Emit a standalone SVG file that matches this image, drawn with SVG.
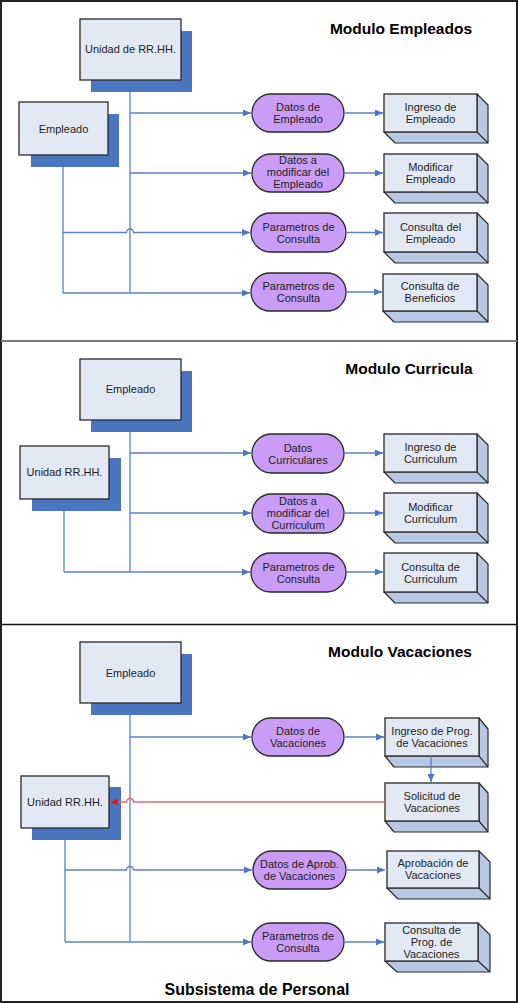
<svg xmlns="http://www.w3.org/2000/svg" width="519" height="1003" viewBox="0 0 519 1003">
<style>
text{font-family:"Liberation Sans",Arial,sans-serif;fill:#1e1e1e}
.t{font-size:11px;text-anchor:middle}
.title{font-size:15.5px;font-weight:bold;text-anchor:middle;fill:#000}
.shadow{fill:#4a76c0}
.ent{fill:#e2e9f4;stroke:#2a2a2a;stroke-width:1.3}
.pill{fill:#c99cf6;stroke:#2a2a2a;stroke-width:1.3}
.side{fill:#b7c8e4;stroke:#2a2a2a;stroke-width:1.2;stroke-linejoin:round}
.front{fill:#e2e9f4;stroke:#2a2a2a;stroke-width:1.3}
.c{fill:none;stroke:#5b82c2;stroke-width:1.3}
.ca{fill:none;stroke:#5b82c2;stroke-width:1.3;marker-end:url(#ab)}
.red{fill:none;stroke:#e36a6a;stroke-width:1.5;marker-end:url(#ar)}
</style>
<defs>
<marker id="ab" markerUnits="userSpaceOnUse" markerWidth="8" markerHeight="7" refX="8" refY="3.5" orient="auto"><path d="M0,0 L8,3.5 L0,7 z" fill="#4f78bc"/></marker>
<marker id="ar" markerUnits="userSpaceOnUse" markerWidth="8" markerHeight="7" refX="8" refY="3.5" orient="auto"><path d="M0,0 L8,3.5 L0,7 z" fill="#d42020"/></marker>
</defs>
<rect x="0" y="0" width="519" height="1003" fill="#fff"/>
<!-- frames -->
<rect x="1" y="1" width="516" height="1001" fill="none" stroke="#222" stroke-width="2"/>
<line x1="1" y1="341" x2="517" y2="341" stroke="#7a7a7a" stroke-width="2"/>
<line x1="1" y1="624.5" x2="517" y2="624.5" stroke="#111" stroke-width="1.5"/>

<text class="title" x="401" y="34">Modulo Empleados</text>
<text class="title" x="409" y="374">Modulo Curricula</text>
<text class="title" x="400" y="657">Modulo Vacaciones</text>
<text class="title" x="257" y="995" style="font-size:16px">Subsistema de Personal</text>

<!-- Section 1 nodes -->
<g id="s1-unidad">
<rect class="shadow" x="91" y="31" width="101" height="61"/>
<rect class="ent" x="80" y="19" width="101" height="61"/>
<text class="t" x="130.5" y="53">Unidad de RR.HH.</text>
</g>
<g id="s1-empleado">
<rect class="shadow" x="31" y="114" width="88" height="53"/>
<rect class="ent" x="19" y="102" width="89" height="53"/>
<text class="t" x="63.5" y="133">Empleado</text>
</g>
<g id="s1-p1">
<rect class="pill" x="252" y="94" width="92" height="38" rx="19"/>
<text class="t" x="298" y="111">Datos de</text>
<text class="t" x="298" y="123">Empleado</text>
</g>
<g id="s1-p2">
<rect class="pill" x="252" y="154" width="92" height="38" rx="19"/>
<text class="t" x="298" y="164">Datos a</text>
<text class="t" x="298" y="176">modificar del</text>
<text class="t" x="298" y="188">Empleado</text>
</g>
<g id="s1-p3">
<rect class="pill" x="251" y="213" width="95" height="39" rx="19.5"/>
<text class="t" x="298.5" y="230.5">Parametros de</text>
<text class="t" x="298.5" y="242.5">Consulta</text>
</g>
<g id="s1-p4">
<rect class="pill" x="251" y="273" width="95" height="38" rx="19"/>
<text class="t" x="298.5" y="290">Parametros de</text>
<text class="t" x="298.5" y="302">Consulta</text>
</g>
<g id="s1-b1">
<polygon class="side" points="477,94 488,105 488,143 395,143 384,132 477,132"/>
<line x1="477" y1="132" x2="488" y2="143" stroke="#2a2a2a" stroke-width="1.2"/>
<rect class="front" x="384" y="94" width="93" height="38"/>
<text class="t" x="430.5" y="111">Ingreso de</text>
<text class="t" x="430.5" y="123">Empleado</text>
</g>
<g id="s1-b2">
<polygon class="side" points="477,154 488,165 488,203 395,203 384,192 477,192"/>
<line x1="477" y1="192" x2="488" y2="203" stroke="#2a2a2a" stroke-width="1.2"/>
<rect class="front" x="384" y="154" width="93" height="38"/>
<text class="t" x="430.5" y="171">Modificar</text>
<text class="t" x="430.5" y="183">Empleado</text>
</g>
<g id="s1-b3">
<polygon class="side" points="477,213 488,224 488,263 395,263 384,252 477,252"/>
<line x1="477" y1="252" x2="488" y2="263" stroke="#2a2a2a" stroke-width="1.2"/>
<rect class="front" x="384" y="213" width="93" height="39"/>
<text class="t" x="430.5" y="230.5">Consulta del</text>
<text class="t" x="430.5" y="242.5">Empleado</text>
</g>
<g id="s1-b4">
<polygon class="side" points="477,274 488,285 488,322 394,322 383,311 477,311"/>
<line x1="477" y1="311" x2="488" y2="322" stroke="#2a2a2a" stroke-width="1.2"/>
<rect class="front" x="383" y="274" width="94" height="37"/>
<text class="t" x="430" y="290">Consulta de</text>
<text class="t" x="430" y="302">Beneficios</text>
</g>

<!-- Section 2 nodes -->
<g id="s2-empleado">
<rect class="shadow" x="91" y="371" width="101" height="61"/>
<rect class="ent" x="80" y="359" width="101" height="61"/>
<text class="t" x="130.5" y="393">Empleado</text>
</g>
<g id="s2-unidad">
<rect class="shadow" x="32" y="458" width="89" height="53"/>
<rect class="ent" x="20" y="446" width="89" height="53"/>
<text class="t" x="64.5" y="476">Unidad RR.HH.</text>
</g>
<g id="s2-p1">
<rect class="pill" x="252" y="434" width="92" height="39" rx="19.5"/>
<text class="t" x="298" y="451.5">Datos</text>
<text class="t" x="298" y="463.5">Curriculares</text>
</g>
<g id="s2-p2">
<rect class="pill" x="252" y="494" width="92" height="39" rx="19.5"/>
<text class="t" x="298" y="504.5">Datos a</text>
<text class="t" x="298" y="516.5">modificar del</text>
<text class="t" x="298" y="528.5">Curriculum</text>
</g>
<g id="s2-p3">
<rect class="pill" x="251" y="553" width="95" height="39" rx="19.5"/>
<text class="t" x="298.5" y="570.5">Parametros de</text>
<text class="t" x="298.5" y="582.5">Consulta</text>
</g>
<g id="s2-b1">
<polygon class="side" points="477,434 488,445 488,483 395,483 384,472 477,472"/>
<line x1="477" y1="472" x2="488" y2="483" stroke="#2a2a2a" stroke-width="1.2"/>
<rect class="front" x="384" y="434" width="93" height="38"/>
<text class="t" x="430.5" y="451">Ingreso de</text>
<text class="t" x="430.5" y="463">Curriculum</text>
</g>
<g id="s2-b2">
<polygon class="side" points="477,493 488,504 488,543 395,543 384,532 477,532"/>
<line x1="477" y1="532" x2="488" y2="543" stroke="#2a2a2a" stroke-width="1.2"/>
<rect class="front" x="384" y="493" width="93" height="39"/>
<text class="t" x="430.5" y="510.5">Modificar</text>
<text class="t" x="430.5" y="522.5">Curriculum</text>
</g>
<g id="s2-b3">
<polygon class="side" points="477,553 488,564 488,603 395,603 384,592 477,592"/>
<line x1="477" y1="592" x2="488" y2="603" stroke="#2a2a2a" stroke-width="1.2"/>
<rect class="front" x="384" y="553" width="93" height="39"/>
<text class="t" x="430.5" y="570.5">Consulta de</text>
<text class="t" x="430.5" y="582.5">Curriculum</text>
</g>

<!-- Section 3 nodes -->
<g id="s3-empleado">
<rect class="shadow" x="91" y="654" width="101" height="61"/>
<rect class="ent" x="80" y="642" width="101" height="61"/>
<text class="t" x="130.5" y="677">Empleado</text>
</g>
<g id="s3-unidad">
<rect class="shadow" x="32" y="787" width="89" height="53"/>
<rect class="ent" x="21" y="776" width="88" height="52"/>
<text class="t" x="65" y="806">Unidad RR.HH.</text>
</g>
<g id="s3-p1">
<rect class="pill" x="252" y="718" width="92" height="38" rx="19"/>
<text class="t" x="298" y="735">Datos de</text>
<text class="t" x="298" y="747">Vacaciones</text>
</g>
<g id="s3-p2">
<rect class="pill" x="253" y="851" width="93" height="38" rx="19"/>
<text class="t" x="299.5" y="868">Datos de Aprob.</text>
<text class="t" x="299.5" y="880">de Vacaciones</text>
</g>
<g id="s3-p3">
<rect class="pill" x="252" y="923" width="92" height="38" rx="19"/>
<text class="t" x="298" y="940">Parametros de</text>
<text class="t" x="298" y="952">Consulta</text>
</g>
<g id="s3-b1">
<polygon class="side" points="479,718 488,729 488,767 394,767 385,756 479,756"/>
<line x1="479" y1="756" x2="488" y2="767" stroke="#2a2a2a" stroke-width="1.2"/>
<rect class="front" x="385" y="718" width="94" height="38"/>
<text class="t" x="432" y="735">Ingreso de Prog.</text>
<text class="t" x="432" y="747">de Vacaciones</text>
</g>
<g id="s3-b2">
<polygon class="side" points="479,783 488,793 488,832 394,832 385,821 479,821"/>
<line x1="479" y1="821" x2="488" y2="832" stroke="#2a2a2a" stroke-width="1.2"/>
<rect class="front" x="385" y="783" width="94" height="38"/>
<text class="t" x="432" y="800">Solicitud de</text>
<text class="t" x="432" y="812">Vacaciones</text>
</g>
<g id="s3-b3">
<polygon class="side" points="479,851 490,862 490,899 398,899 387,888 479,888"/>
<line x1="479" y1="888" x2="490" y2="899" stroke="#2a2a2a" stroke-width="1.2"/>
<rect class="front" x="387" y="851" width="92" height="37"/>
<text class="t" x="433" y="867">Aprobación  de</text>
<text class="t" x="433" y="879">Vacaciones</text>
</g>
<g id="s3-b4">
<polygon class="side" points="478,923 490,935 490,972 397,972 385,961 478,961"/>
<line x1="478" y1="961" x2="490" y2="972" stroke="#2a2a2a" stroke-width="1.2"/>
<rect class="front" x="385" y="923" width="93" height="38"/>
<text class="t" x="431.5" y="933.5">Consulta de</text>
<text class="t" x="431.5" y="945.5">Prog. de</text>
<text class="t" x="431.5" y="957.5">Vacaciones</text>
</g>

<g id="connectors">
<!-- section 1 -->
<path class="c" d="M130,92 V293"/>
<path class="c" d="M63,167 V293"/>
<path class="ca" d="M130,113 H251"/>
<path class="ca" d="M130,173 H251"/>
<path class="ca" d="M63,232.5 H126.5 a3.5,3.5 0 0 1 7,0 H250"/>
<path class="ca" d="M63,293 H250"/>
<path class="ca" d="M344,113 H383"/>
<path class="ca" d="M344,173 H383"/>
<path class="ca" d="M346,232.5 H383"/>
<path class="ca" d="M346,292 H382"/>
<!-- section 2 -->
<path class="c" d="M130,432 V572"/>
<path class="c" d="M64,511 V572"/>
<path class="ca" d="M130,453 H251"/>
<path class="ca" d="M130,513 H251"/>
<path class="ca" d="M64,572 H250"/>
<path class="ca" d="M344,453 H383"/>
<path class="ca" d="M344,513 H383"/>
<path class="ca" d="M346,572 H383"/>
<!-- section 3 -->
<path class="c" d="M130,715 V942"/>
<path class="c" d="M65,840 V942"/>
<path class="ca" d="M130,737 H251"/>
<path class="ca" d="M344,737 H384"/>
<path class="ca" d="M431,756 V782"/>
<path class="red" d="M385,802 H133.5 a3.5,3.5 0 0 0 -7,0 H110"/>
<path class="ca" d="M65,870 H126.5 a3.5,3.5 0 0 1 7,0 H252"/>
<path class="ca" d="M346,870 H385"/>
<path class="ca" d="M65,942 H251"/>
<path class="ca" d="M344,942 H384"/>
</g>
</svg>
